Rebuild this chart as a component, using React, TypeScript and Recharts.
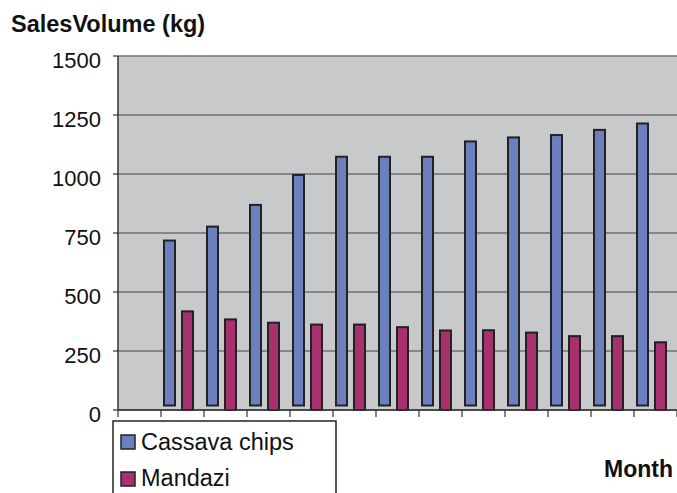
import { BarChart, Bar, XAxis, YAxis, CartesianGrid, Legend } from "recharts";

const months = ["", "1", "2", "3", "4", "5", "6", "7", "8", "9", "10", "11", "12"];
const cassavaChips = [null, 718, 777, 869, 996, 1073, 1073, 1073, 1138, 1155, 1165, 1187, 1214];
const mandazi = [null, 418, 384, 370, 362, 362, 351, 337, 338, 328, 313, 313, 287];
const yTicks = [0, 250, 500, 750, 1000, 1250, 1500];

const data = months.map((m, i) => ({
  month: m,
  cassava: cassavaChips[i],
  mandazi: mandazi[i],
}));

const W = 677;
const H = 493;
const PLOT_LEFT = 118;
const FONT = "'Liberation Sans', Arial, sans-serif";
const BLUE = "#6c80c0";
const MAGENTA = "#a8306c";
const EDGE = "#222";
const halfBand = (W - PLOT_LEFT) / months.length / 2;

// bars sit a little left of the band centre; the blue ones float above the axis
const makeBar = (lift: number) => (props: any) => {
  const { x, y, width, height, fill } = props;
  if (!height || height <= 0) return <g />;
  return (
    <rect
      x={x - 4}
      y={y}
      width={width}
      height={Math.max(height - lift, 0)}
      fill={fill}
      stroke={EDGE}
      strokeWidth={2}
    />
  );
};

const BoundaryTick = (props: any) => {
  const { x, y, index } = props;
  const last = index === months.length - 1;
  return (
    <g stroke="#333" strokeWidth={1.2}>
      <line x1={x - halfBand} x2={x - halfBand} y1={y} y2={y + 7} />
      {last && <line x1={x + halfBand} x2={x + halfBand} y1={y} y2={y + 7} />}
    </g>
  );
};

const YTick = (props: any) => {
  const { x, y, payload } = props;
  return (
    <text x={x} y={y} dy={12} textAnchor="end" fontSize={22} fill="#111" fontFamily={FONT}>
      {payload.value}
    </text>
  );
};

const LegendBox = () => (
  <svg width={226} height={80} style={{ display: "block" }}>
    <rect x={1} y={1} width={223} height={90} fill="#fff" stroke={EDGE} strokeWidth={1.5} />
    <rect x={9} y={15} width={14} height={14} fill={BLUE} stroke={EDGE} strokeWidth={1.5} />
    <text x={29} y={30} fontSize={23.5} fontFamily={FONT} fill="#111">Cassava chips</text>
    <rect x={9} y={52} width={14} height={14} fill={MAGENTA} stroke={EDGE} strokeWidth={1.5} />
    <text x={29} y={66} fontSize={23.5} fontFamily={FONT} fill="#111">Mandazi</text>
  </svg>
);

export default function App() {
  return (
    <div style={{ position: "relative", width: W, height: H, overflow: "hidden", background: "#fff" }}>
      <style>{"body{margin:0;overflow:hidden}"}</style>
      <BarChart
        width={W}
        height={H}
        data={data}
        margin={{ top: 56, right: 0, bottom: 63, left: 0 }}
        barSize={11}
        barGap={7}
      >
        <CartesianGrid vertical={false} fill="#c8c9cb" stroke="#707070" strokeWidth={1.5} />
        <XAxis
          dataKey="month"
          height={20}
          tick={<BoundaryTick />}
          tickLine={false}
          tickSize={0}
          tickMargin={0}
          interval={0}
          axisLine={{ stroke: "#333", strokeWidth: 1.5 }}
        />
        <YAxis
          width={PLOT_LEFT}
          domain={[0, 1500]}
          ticks={yTicks}
          tickSize={5}
          tickMargin={12}
          tick={<YTick />}
          tickLine={{ stroke: "#333", strokeWidth: 1.2 }}
          axisLine={{ stroke: "#333", strokeWidth: 1.5 }}
        />
        <Legend
          layout="vertical"
          align="center"
          verticalAlign="middle"
          wrapperStyle={{ left: 112, top: 420, width: 226, height: 80 }}
          content={() => <LegendBox />}
        />
        <Bar dataKey="cassava" name="Cassava chips" fill={BLUE} shape={makeBar(4.5)} isAnimationActive={false} />
        <Bar dataKey="mandazi" name="Mandazi" fill={MAGENTA} shape={makeBar(0)} isAnimationActive={false} />
      </BarChart>
      <svg width={W} height={H} style={{ position: "absolute", left: 0, top: 0, pointerEvents: "none" }}>
        <text x={11} y={32} fontSize={23.5} fontWeight="bold" fontFamily={FONT} fill="#111">
          SalesVolume (kg)
        </text>
        <text x={673} y={477} fontSize={23} fontWeight="bold" fontFamily={FONT} fill="#111" textAnchor="end">
          Month
        </text>
      </svg>
    </div>
  );
}
